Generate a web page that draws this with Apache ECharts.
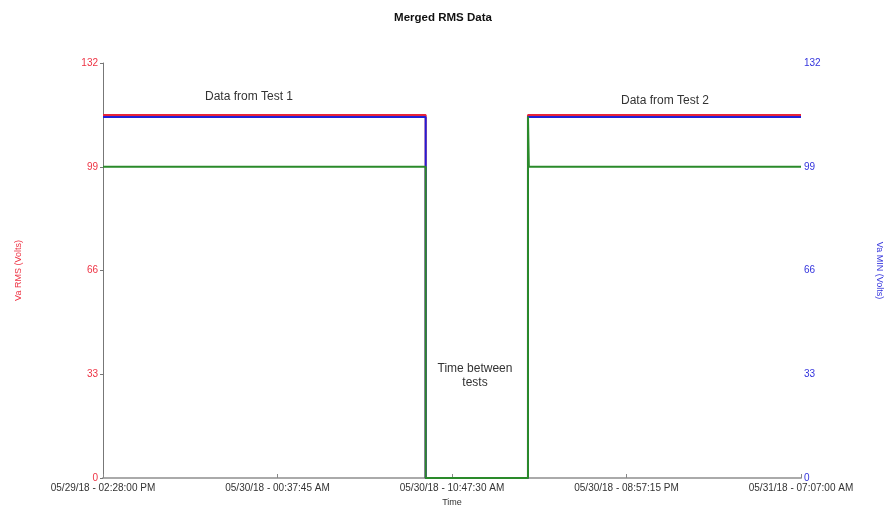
<!DOCTYPE html>
<html>
<head>
<meta charset="utf-8">
<script src="https://cdn.jsdelivr.net/npm/echarts@6/dist/echarts.min.js"></script>
<style>html,body{margin:0;padding:0;background:#fff;}#c{width:886px;height:506px;}</style>
</head>
<body>
<div id="c"></div>
<script>
// ---- data ----
const startTime = "2018-05-29 14:28:00";
const endTime = "2018-05-31 07:07:00";
const xTickLabels = ["05/29/18 - 02:28:00 PM", "05/30/18 - 00:37:45 AM", "05/30/18 - 10:47:30 AM", "05/30/18 - 08:57:15 PM", "05/31/18 - 07:07:00 AM"];
const yTicks = [0, 33, 66, 99, 132];

const rmsTimes = ["2018-05-29 14:28:00", "2018-05-30 09:15:30", "2018-05-30 09:15:30", "2018-05-30 15:13:00", "2018-05-30 15:13:00", "2018-05-31 07:07:00"];
const vaRms = [115.5, 115.5, 0, 0, 115.5, 115.5];
const vaMin = [114.8, 114.8, 0, 0, 114.8, 114.8];

const greenTimes = ["2018-05-29 14:28:00", "2018-05-30 09:15:30", "2018-05-30 09:15:30", "2018-05-30 15:13:00", "2018-05-30 15:13:00", "2018-05-30 15:16:00", "2018-05-31 07:07:00"];
const vaOther = [99, 99, 0, 0, 115, 99, 99];

// ---- helpers ----
function parseT(s) {
  const m = s.match(/(\d+)-(\d+)-(\d+) (\d+):(\d+):(\d+)/);
  return Date.UTC(+m[1], +m[2] - 1, +m[3], +m[4], +m[5], +m[6]) / 1000;
}
const t0 = parseT(startTime);
const span = parseT(endTime) - t0;
const xInterval = span / (xTickLabels.length - 1);
function pairs(times, vals) { return times.map((t, i) => [parseT(t) - t0, vals[i]]); }

const chart = echarts.init(document.getElementById('c'));
const font = 'Liberation Sans, Arial, sans-serif';
chart.setOption({
  animation: false,
  backgroundColor: '#fff',
  title: {
    text: 'Merged RMS Data', left: 'center', top: 7,
    textStyle: { fontSize: 11.5, fontWeight: 'bold', color: '#111', fontFamily: font }
  },
  grid: { left: 103, right: 85, top: 63, bottom: 28, containLabel: false, outerBoundsMode: 'none' },
  xAxis: {
    type: 'value', min: 0, max: span, interval: xInterval,
    name: 'Time', nameLocation: 'middle', nameGap: 19,
    nameTextStyle: { fontSize: 9, color: '#333', fontFamily: font },
    axisLine: { lineStyle: { color: '#aaa', width: 2 } },
    axisTick: { inside: true, length: 4, lineStyle: { color: '#888' } },
    axisLabel: {
      fontSize: 10, color: '#333', fontFamily: font, margin: 5,
      showMinLabel: true, showMaxLabel: true,
      formatter: (v) => xTickLabels[Math.round(v / xInterval)] || ''
    },
    splitLine: { show: false }
  },
  yAxis: [{
    type: 'value', min: 0, max: 132, interval: 33,
    name: 'Va RMS (Volts)', nameLocation: 'middle', nameGap: 80, nameRotate: 90,
    nameTextStyle: { fontSize: 9, color: '#ee3344', fontFamily: font },
    axisLine: { show: true, lineStyle: { color: '#777' } },
    axisTick: { show: true, length: 3, lineStyle: { color: '#777' } },
    axisLabel: { fontSize: 10, color: '#ee3344', fontFamily: font, margin: 5,
      formatter: (v) => String(yTicks[Math.round(v / 33)]) },
    splitLine: { show: false }
  }, {
    type: 'value', min: 0, max: 132, interval: 33, position: 'right',
    name: 'Va MIN (Volts)', nameLocation: 'middle', nameGap: 74, nameRotate: -90,
    nameTextStyle: { fontSize: 9, color: '#3333dd', fontFamily: font },
    axisLine: { show: false },
    axisTick: { show: false },
    axisLabel: { fontSize: 10, color: '#3333dd', fontFamily: font, margin: 3,
      formatter: (v) => String(yTicks[Math.round(v / 33)]) },
    splitLine: { show: false }
  }],
  series: [{
    type: 'line', name: 'Va RMS', yAxisIndex: 0, data: pairs(rmsTimes, vaRms),
    showSymbol: false, lineStyle: { color: '#e8243a', width: 2 }
  }, {
    type: 'line', name: 'Va MIN', yAxisIndex: 1, data: pairs(rmsTimes, vaMin),
    showSymbol: false, lineStyle: { color: '#2020d8', width: 2 }
  }, {
    type: 'line', name: 'Other', yAxisIndex: 0, data: pairs(greenTimes, vaOther),
    showSymbol: false, lineStyle: { color: '#2a8a2a', width: 2 }
  }],
  graphic: [
    { type: 'text', x: 249, y: 97, style: { text: 'Data from Test 1', fontSize: 12, fill: '#333', fontFamily: font, align: 'center', verticalAlign: 'middle' } },
    { type: 'text', x: 665, y: 101, style: { text: 'Data from Test 2', fontSize: 12, fill: '#333', fontFamily: font, align: 'center', verticalAlign: 'middle' } },
    { type: 'text', x: 475, y: 376, style: { text: 'Time between\ntests', fontSize: 12, fill: '#333', fontFamily: font, align: 'center', verticalAlign: 'middle', lineHeight: 14 } }
  ]
});
</script>
</body>
</html>
